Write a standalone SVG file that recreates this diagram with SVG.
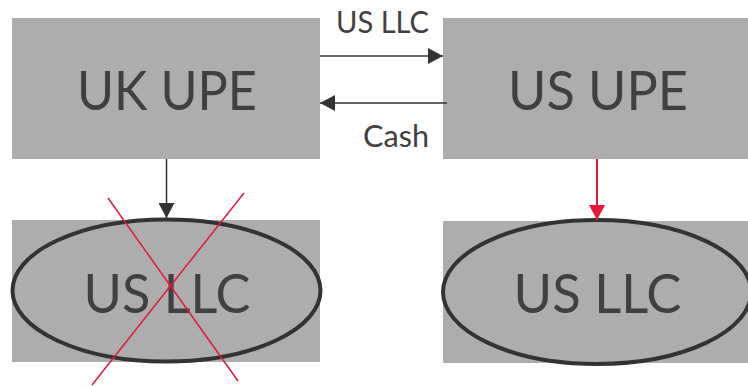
<svg xmlns="http://www.w3.org/2000/svg" width="748" height="386" viewBox="0 0 748 386">
  <style>
    .box { fill: #adadad; }
    .oval { fill: none; stroke: #333333; stroke-width: 4; }
    .big { font-family: Lato, "Open Sans", sans-serif; font-size: 55px; fill: #404040; text-anchor: middle; }
    .lbl { font-family: Lato, "Open Sans", sans-serif; font-size: 31px; fill: #404040; }
    .link { stroke: #333333; stroke-width: 1.5; fill: none; }
    .red { stroke: #e8173a; stroke-width: 1.5; fill: none; }
  </style>
  <defs>
    <marker id="ah" viewBox="0 0 15 16" refX="15" refY="8" markerWidth="15" markerHeight="16" markerUnits="userSpaceOnUse" orient="auto">
      <path d="M0,0 L15,8 L0,16 Z" fill="#333333"/>
    </marker>
    <marker id="ahRed" viewBox="0 0 15 16" refX="15" refY="8" markerWidth="15" markerHeight="16" markerUnits="userSpaceOnUse" orient="auto">
      <path d="M0,0 L15,8 L0,16 Z" fill="#e8173a"/>
    </marker>
  </defs>

  <g id="uk-upe">
    <rect class="box" x="12" y="18" width="308" height="141"/>
    <text class="big" x="167" y="110" textLength="180" lengthAdjust="spacingAndGlyphs">UK UPE</text>
  </g>

  <g id="us-upe">
    <rect class="box" x="443" y="18" width="305" height="141"/>
    <text class="big" x="598" y="110" textLength="180" lengthAdjust="spacingAndGlyphs">US UPE</text>
  </g>

  <g id="us-llc-left">
    <rect class="box" x="12" y="220" width="308" height="142"/>
    <ellipse class="oval" cx="166.5" cy="290.5" rx="154" ry="71"/>
    <text class="big" x="167" y="313" textLength="167" lengthAdjust="spacingAndGlyphs">US LLC</text>
  </g>

  <g id="us-llc-right">
    <rect class="box" x="443" y="221" width="305" height="142"/>
    <ellipse class="oval" cx="597" cy="292" rx="154" ry="72"/>
    <text class="big" x="597.5" y="313" textLength="168" lengthAdjust="spacingAndGlyphs">US LLC</text>
  </g>

  <g id="connectors">
    <line class="link" x1="320" y1="56" x2="443" y2="56" marker-end="url(#ah)"/>
    <text class="lbl" x="429" y="33" text-anchor="end" textLength="93" lengthAdjust="spacingAndGlyphs">US LLC</text>
    <line class="link" x1="447" y1="103" x2="320" y2="103" marker-end="url(#ah)"/>
    <text class="lbl" x="429" y="147" text-anchor="end" textLength="66" lengthAdjust="spacingAndGlyphs">Cash</text>
    <line class="link" x1="166.5" y1="159" x2="166.5" y2="218" marker-end="url(#ah)"/>
    <line class="red" x1="597" y1="159" x2="597" y2="220" marker-end="url(#ahRed)" style="stroke-width:2"/>
  </g>

  <g id="strike">
    <line class="red" x1="108" y1="198" x2="238" y2="381"/>
    <line class="red" x1="244" y1="193" x2="92" y2="385"/>
  </g>
</svg>
